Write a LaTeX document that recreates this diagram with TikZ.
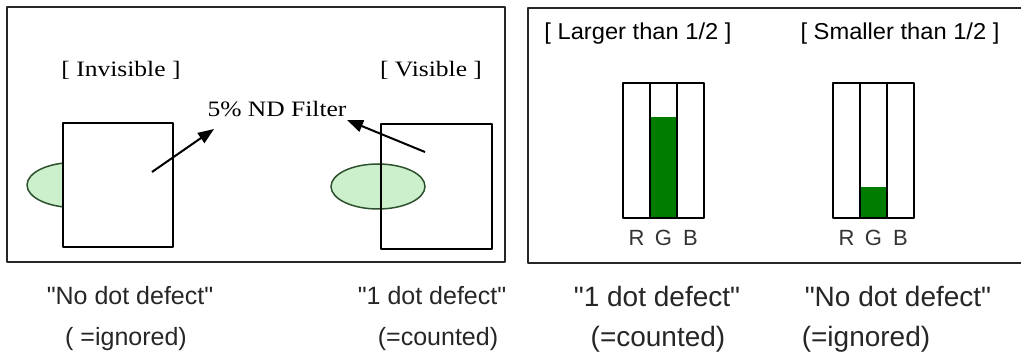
\documentclass[tikz,border=0pt]{standalone}
\usepackage{fontspec}
\setmainfont{Liberation Serif}
\setsansfont{Liberation Sans}[Ligatures=TeXOff]
\usetikzlibrary{arrows.meta}
\definecolor{spotgreen}{RGB}{204,240,204}
\definecolor{spotline}{RGB}{45,80,45}
\definecolor{bargreen}{RGB}{0,125,0}
\begin{document}
\begin{tikzpicture}[x=1pt, y=-1pt, line join=round, >={Triangle[length=16pt,width=12pt]}]
		\tikzset{
			frame/.style={draw=black!85, line width=2pt},
			panel/.style={draw=black, line width=1.5pt, rectangle, inner sep=0pt},
			spot/.style={draw=spotline, line width=1.5pt, fill=spotgreen},
			pointer/.style={->, line width=2pt},
			serif/.style={font=\fontsize{22}{26}\selectfont, xscale=1.16, inner sep=0pt, anchor=base},
			head/.style={font=\sffamily\fontsize{23}{27}\selectfont, xscale=1.03, inner sep=0pt, anchor=base},
			chan/.style={font=\sffamily\fontsize{22}{26}\selectfont, inner sep=0pt, anchor=base, text=black!80},
			capl/.style={font=\sffamily\fontsize{25}{30}\selectfont, inner sep=0pt, anchor=base, text=black!85},
			capr/.style={font=\sffamily\fontsize{28}{33}\selectfont, inner sep=0pt, anchor=base, text=black!85}
		}
		\useasboundingbox (0,0) rectangle (1021,358);
		% frames
		\draw[frame] (7,7) rectangle (505,262);
		\draw[frame] (1023,8) -- (528,8) -- (528,263) -- (1023,263);
		% filter demo
		\draw[spot] (74,185) ellipse (47pt and 22.5pt);
		\node[panel, fill=white, minimum width=110pt, minimum height=124pt] (inv) at (118,185) {};
		\draw[spot] (378,186.5) ellipse (47pt and 22.5pt);
		\node[panel, minimum width=111pt, minimum height=125pt] (vis) at (436.5,186.5) {};
		\node[serif] (invl) at (121,77) {[ Invisible ]};
		\node[serif] (visl) at (431,77) {[ Visible ]};
		\node[serif] (filter) at (277,117) {5\% ND Filter};
		\coordinate (t1) at (152,172);
		\coordinate (h1) at (214,129);
		\coordinate (t2) at (425,152);
		\coordinate (h2) at (347,120);
		\draw[pointer] (t1) -- (h1);
		\draw[pointer] (t2) -- (h2);
		% RGB bars
		\foreach \bx/\gt/\n in {623/117/a, 833/187/b}{
			\fill[bargreen] (\bx+27,\gt) rectangle (\bx+54,218);
			\draw[line width=1.5pt] (\bx,83) rectangle (\bx+81,218)
				(\bx+27,83) -- (\bx+27,218) (\bx+54,83) -- (\bx+54,218);
			\foreach \c/\k in {R/0,G/1,B/2}
				\node[chan] (\n\c) at (\bx+13.5+27*\k,246) {\c};
		}
		\node[head] (large) at (638,40) {[ Larger than 1/2 ]};
		\node[head] (small) at (900,40) {[ Smaller than 1/2 ]};
		% captions
		\node[capl] (c1) at (130,305) {"No dot defect"};
		\node[capl] (c1b) at (126,345) {( =ignored)};
		\node[capl] (c2) at (432,305) {"1 dot defect"};
		\node[capl] (c2b) at (438,345) {(=counted)};
		\node[capr] (c3) at (657,307) {"1 dot defect"};
		\node[capr] (c3b) at (658,347) {(=counted)};
		\node[capr] (c4) at (898,307) {"No dot defect"};
		\node[capr] (c4b) at (866,347) {(=ignored)};
\end{tikzpicture}
\end{document}
